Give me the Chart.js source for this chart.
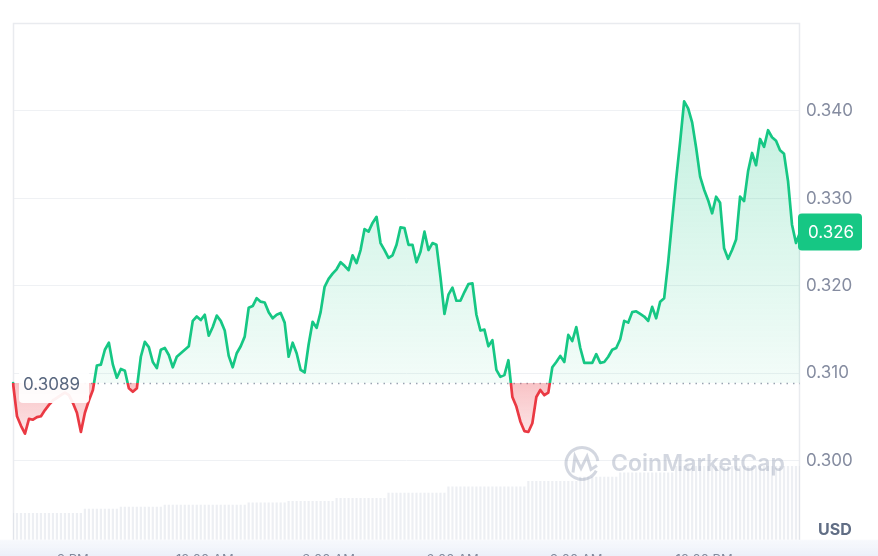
<!DOCTYPE html>
<html>
<head>
<meta charset="utf-8">
<script src="https://cdn.jsdelivr.net/npm/chart.js@4.4.1/dist/chart.umd.min.js"></script>
<style>
  html, body { margin: 0; padding: 0; background: #ffffff; }
  canvas { display: block; }
</style>
</head>
<body>
<canvas id="c" width="878" height="556"></canvas>
<script>
// ---- data ----
const prices = [
  0.3089,0.3051,0.3040,0.3031,0.3048,0.3047,0.3050,0.3051,0.3058,0.3064,
  0.3069,0.3072,0.3075,0.3078,0.3075,0.3066,0.3055,0.3033,0.3055,0.3069,
  0.3081,0.3109,0.3110,0.3127,0.3135,0.3110,0.3095,0.3105,0.3103,0.3083,
  0.3079,0.3083,0.3119,0.3136,0.3130,0.3113,0.3106,0.3127,0.3129,0.3121,
  0.3107,0.3119,0.3123,0.3127,0.3131,0.3160,0.3165,0.3161,0.3167,0.3143,
  0.3153,0.3166,0.3160,0.3149,0.3120,0.3107,0.3123,0.3131,0.3142,0.3175,
  0.3177,0.3186,0.3182,0.3181,0.3170,0.3163,0.3167,0.3169,0.3158,0.3119,
  0.3135,0.3123,0.3104,0.3101,0.3133,0.3159,0.3152,0.3170,0.3199,0.3208,
  0.3214,0.3219,0.3227,0.3223,0.3218,0.3235,0.3226,0.3241,0.3265,0.3262,
  0.3272,0.3279,0.3249,0.3241,0.3232,0.3235,0.3247,0.3267,0.3266,0.3247,
  0.3247,0.3227,0.3239,0.3262,0.3241,0.3249,0.3247,0.3210,0.3168,0.3190,
  0.3198,0.3183,0.3183,0.3193,0.3202,0.3203,0.3167,0.3149,0.3150,0.3131,
  0.3138,0.3104,0.3096,0.3098,0.3115,0.3073,0.3062,0.3045,0.3034,0.3033,
  0.3043,0.3073,0.3081,0.3075,0.3078,0.3107,0.3113,0.3120,0.3113,0.3144,
  0.3137,0.3153,0.3129,0.3112,0.3112,0.3112,0.3122,0.3112,0.3113,0.3119,
  0.3127,0.3129,0.3139,0.3160,0.3158,0.3170,0.3171,0.3168,0.3165,0.3160,
  0.3176,0.3163,0.3182,0.3186,0.3227,0.3275,0.3322,0.3365,0.3411,0.3403,
  0.3387,0.3358,0.3325,0.3310,0.3298,0.3283,0.3302,0.3295,0.3243,0.3231,
  0.3241,0.3253,0.3302,0.3297,0.3331,0.3352,0.3338,0.3368,0.3359,0.3378,
  0.3370,0.3366,0.3355,0.3351,0.3320,0.3270,0.3249,0.3261
];

const volumes = [
  52,52,52,52,52,52,52,52,52,52,52,52,52,52,52,52,52,52,
  60,60,60,60,60,60,60,60,60,
  64,64,64,64,64,64,64,64,64,64,64,
  68,68,68,68,68,68,68,68,68,68,68,68,68,68,68,68,68,68,68,68,68,
  72,72,72,72,72,72,72,72,72,72,
  75,75,75,75,75,75,75,75,75,75,75,75,
  81,81,81,81,81,81,81,81,81,81,81,81,81,
  91,91,91,91,91,91,91,91,91,91,91,91,91,91,91,
  103,103,103,103,103,103,103,103,103,103,103,103,103,103,103,103,103,103,103,103,
  114,114,114,114,114,114,114,114,114,114,114,114,114,
  122,122,122,122,122,122,122,122,122,122,
  130,130,130,130,130,130,130,130,130,130,130,130,130,130,
  143,143,143,143,143,143,143,143,143,143,143,143,143,143,143,143,
  143,143,143,143,143,143,143,143,143,143,143,143,143,143,143,143
];

const categories = prices.map((_, i) => i);
const baseline = 0.3089;
const baselineLabel = '0.3089';
const lastPriceLabel = '0.326';
const yTicks = [0.300, 0.310, 0.320, 0.330, 0.340];
const xTickLabels = ['9 PM', '12:00 AM', '3:00 AM', '6:00 AM', '9:00 AM', '12:00 PM'];
const xTickIdx = [15, 48, 79, 110, 141, 173];
const currencyLabel = 'USD';
const watermark = 'CoinMarketCap';

// ---- styles ----
const GREEN = '#16c784';
const RED = '#ea3943';
const FONT = 'Inter, "Noto Sans", "DejaVu Sans", sans-serif';

function basePx(chart) { return chart.scales.y.getPixelForValue(baseline); }

function lineGradient(chart) {
  const { ctx, chartArea } = chart;
  if (!chartArea) return GREEN;
  const by = basePx(chart);
  const t = Math.min(1, Math.max(0, (by - chartArea.top) / (chartArea.bottom - chartArea.top)));
  const g = ctx.createLinearGradient(0, chartArea.top, 0, chartArea.bottom);
  g.addColorStop(0, GREEN);
  g.addColorStop(t, GREEN);
  g.addColorStop(t, RED);
  g.addColorStop(1, RED);
  return g;
}
function aboveGradient(chart) {
  const { ctx, chartArea } = chart;
  if (!chartArea) return 'rgba(22,199,132,0.12)';
  const by = basePx(chart);
  const g = ctx.createLinearGradient(0, chart.scales.y.getPixelForValue(0.342), 0, by);
  g.addColorStop(0, 'rgba(22,199,132,0.26)');
  g.addColorStop(1, 'rgba(22,199,132,0.05)');
  return g;
}
function belowGradient(chart) {
  const { ctx, chartArea } = chart;
  if (!chartArea) return 'rgba(234,57,67,0.2)';
  const by = basePx(chart);
  const g = ctx.createLinearGradient(0, by, 0, chart.scales.y.getPixelForValue(0.302));
  g.addColorStop(0, 'rgba(234,57,67,0.30)');
  g.addColorStop(1, 'rgba(234,57,67,0.10)');
  return g;
}

function roundRect(ctx, x, y, w, h, r) {
  ctx.beginPath();
  ctx.moveTo(x + r, y);
  ctx.lineTo(x + w - r, y);
  ctx.quadraticCurveTo(x + w, y, x + w, y + r);
  ctx.lineTo(x + w, y + h - r);
  ctx.quadraticCurveTo(x + w, y + h, x + w - r, y + h);
  ctx.lineTo(x + r, y + h);
  ctx.quadraticCurveTo(x, y + h, x, y + h - r);
  ctx.lineTo(x, y + r);
  ctx.quadraticCurveTo(x, y, x + r, y);
  ctx.closePath();
}

const decor = {
  id: 'decor',
  beforeDraw(chart) {
    const { ctx, chartArea, width, height } = chart;
    ctx.save();
    const g = ctx.createLinearGradient(0, chartArea.bottom, 0, height);
    g.addColorStop(0, 'rgba(242,245,251,0.6)');
    g.addColorStop(1, 'rgba(236,240,249,1)');
    ctx.fillStyle = g;
    ctx.fillRect(0, chartArea.bottom, width, height - chartArea.bottom);
    ctx.restore();
  },
  beforeDatasetsDraw(chart) {
    const { ctx, chartArea } = chart;
    ctx.save();
    // frame
    ctx.strokeStyle = '#e9ebef';
    ctx.lineWidth = 1.5;
    ctx.beginPath();
    ctx.moveTo(chartArea.left + 0.5, chartArea.bottom);
    ctx.lineTo(chartArea.left + 0.5, chartArea.top + 0.5);
    ctx.lineTo(chartArea.right - 0.5, chartArea.top + 0.5);
    ctx.lineTo(chartArea.right - 0.5, chartArea.bottom);
    ctx.stroke();
    // baseline dotted
    const by = Math.round(basePx(chart)) + 0.5;
    ctx.strokeStyle = '#9aa3b2';
    ctx.lineWidth = 1.5;
    ctx.setLineDash([1.5, 5]);
    ctx.beginPath();
    ctx.moveTo(chartArea.left, by);
    ctx.lineTo(chartArea.right, by);
    ctx.stroke();
    ctx.restore();
  },
  afterDatasetsDraw(chart) {
    const { ctx, chartArea, scales } = chart;
    const by = basePx(chart);
    ctx.save();

    // watermark
    const wx = chartArea.right - 236, wy = scales.y.getPixelForValue(0.2997);
    ctx.strokeStyle = 'rgba(150,160,180,0.42)';
    ctx.lineWidth = 3;
    ctx.beginPath();
    ctx.arc(wx + 18, wy, 16, 0.15 * Math.PI, 1.95 * Math.PI);
    ctx.stroke();
    ctx.beginPath();
    ctx.moveTo(wx + 9, wy + 9);
    ctx.lineTo(wx + 11, wy - 7);
    ctx.lineTo(wx + 17, wy + 5);
    ctx.lineTo(wx + 23, wy - 7);
    ctx.lineTo(wx + 27, wy + 6);
    ctx.lineTo(wx + 33, wy + 2);
    ctx.stroke();
    ctx.fillStyle = 'rgba(150,160,180,0.42)';
    ctx.font = '600 23px ' + FONT;
    ctx.textBaseline = 'middle';
    ctx.textAlign = 'left';
    ctx.fillText(watermark, wx + 47, wy + 1);

    // baseline label
    ctx.fillStyle = 'rgba(255,255,255,0.93)';
    roundRect(ctx, chartArea.left + 6, by - 13, 70, 33, 4);
    ctx.fill();
    ctx.fillStyle = '#58667e';
    ctx.font = '17px ' + FONT;
    ctx.textBaseline = 'middle';
    ctx.fillText(baselineLabel, chartArea.left + 10, by + 2);

    // last price tag
    const py = scales.y.getPixelForValue(prices[prices.length - 1]);
    ctx.fillStyle = GREEN;
    roundRect(ctx, chartArea.right - 2, py - 19, 64, 37, 4);
    ctx.fill();
    ctx.fillStyle = '#ffffff';
    ctx.font = '17px ' + FONT;
    ctx.fillText(lastPriceLabel, chartArea.right + 8, py);

    // currency
    ctx.fillStyle = '#616e85';
    ctx.font = 'bold 16px ' + FONT;
    ctx.fillText(currencyLabel, chartArea.right + 18, chartArea.bottom - 10);

    // x labels (mostly cut off by the bottom edge)
    ctx.fillStyle = '#808a9d';
    ctx.font = '13px ' + FONT;
    ctx.textAlign = 'center';
    ctx.textBaseline = 'top';
    xTickIdx.forEach((idx, k) => {
      ctx.fillText(xTickLabels[k], scales.x.getPixelForValue(idx), chartArea.bottom + 14);
    });
    ctx.restore();
  }
};

new Chart(document.getElementById('c'), {
  data: {
    labels: categories,
    datasets: [
      {
        type: 'line',
        data: prices,
        yAxisID: 'y',
        order: 1,
        borderWidth: 2.7,
        pointRadius: 0,
        tension: 0,
        borderJoinStyle: 'round',
        borderCapStyle: 'round',
        borderColor: (c) => lineGradient(c.chart),
        backgroundColor: 'rgba(22,199,132,0.1)',
        fill: {
          target: { value: baseline },
          above: (c) => aboveGradient(c.chart),
          below: (c) => belowGradient(c.chart)
        }
      },
      {
        type: 'bar',
        data: volumes,
        yAxisID: 'yv',
        order: 2,
        backgroundColor: 'rgba(214,219,229,0.45)',
        barPercentage: 0.55,
        categoryPercentage: 1.0,
        borderWidth: 0
      }
    ]
  },
  options: {
    responsive: false,
    animation: false,
    devicePixelRatio: 1,
    layout: { padding: { top: 23, left: 13, right: 0, bottom: 16 } },
    plugins: { legend: { display: false }, tooltip: { enabled: false } },
    scales: {
      x: { type: 'category', display: false, offset: false },
      y: {
        position: 'right',
        min: 0.29097,
        max: 0.35006,
        afterBuildTicks: (s) => { s.ticks = yTicks.map(v => ({ value: v })); },
        afterFit: (s) => { s.width = 78; },
        border: { display: false },
        grid: { color: '#eff1f4', lineWidth: 1, drawTicks: false },
        ticks: {
          padding: 6,
          color: '#858ca0',
          font: { size: 17, family: FONT },
          callback: (v) => Number(v).toFixed(3)
        }
      },
      yv: { display: false, min: 0, max: 1000 }
    }
  },
  plugins: [decor]
});
</script>
</body>
</html>
